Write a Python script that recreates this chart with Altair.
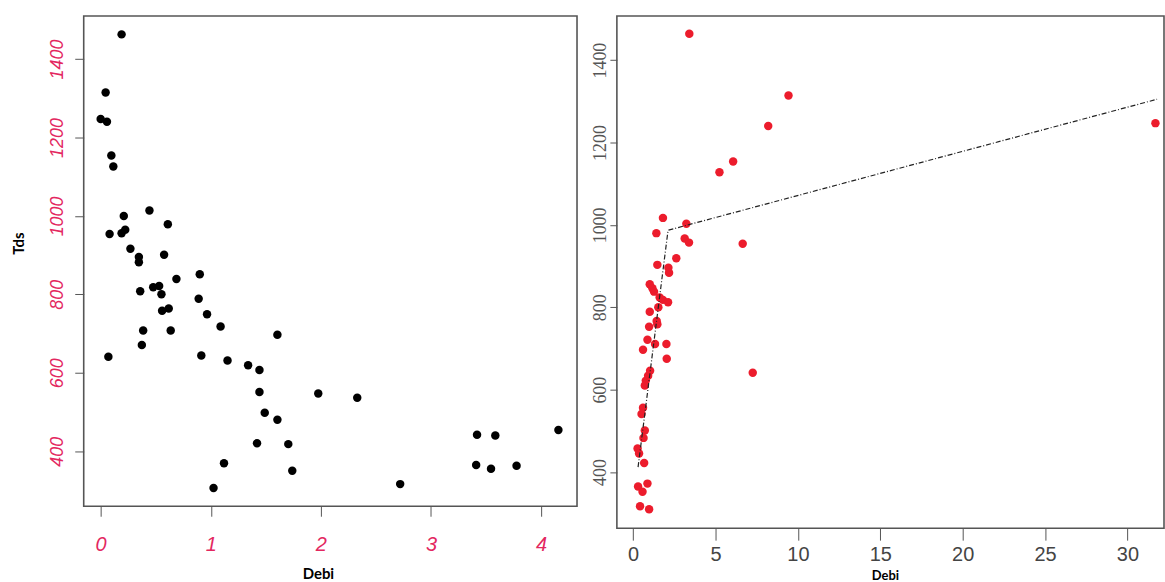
import altair as alt
import pandas as pd

# ---- left panel data (Debi vs Tds) ----
left_debi = [0.19, 0.045, 0.0, 0.057, 0.097, 0.115, 0.21, 0.443, 0.081, 0.19,
             0.223, 0.61, 0.27, 0.347, 0.347, 0.576, 0.688, 0.9, 0.359, 0.477,
             0.531, 0.552, 0.89, 0.558, 0.618, 0.966, 1.089, 0.386, 0.636, 0.374,
             1.605, 0.07, 0.914, 1.152, 1.339, 1.442, 1.442, 1.49, 1.605, 1.42,
             1.704, 1.74, 1.12, 1.025, 1.976, 2.33, 2.72, 3.418, 3.584, 3.41,
             3.545, 3.777, 4.157]
left_tds = [1463, 1315, 1247, 1240, 1154, 1126, 1000, 1014, 954, 956,
            965, 979, 916, 895, 882, 901, 839, 851, 808, 818,
            821, 800, 789, 758, 764, 749, 718, 708, 708, 671,
            697, 641, 644, 631, 619, 607, 551, 498, 480, 420,
            418, 350, 369, 306, 547, 536, 316, 442, 440, 365,
            355, 363, 454]

# ---- right panel data ----
right_debi = [3.41, 9.43, 8.2, 31.7, 6.07, 5.24, 1.81, 1.41, 3.23, 3.13,
              3.39, 6.65, 2.62, 1.47, 2.14, 2.18, 1.01, 1.17, 1.27, 1.61,
              1.81, 2.12, 1.53, 1.01, 1.43, 1.47, 0.97, 0.87, 1.33, 2.02,
              0.6, 2.04, 1.03, 0.91, 0.77, 0.71, 7.26, 0.6, 0.51, 0.71,
              0.63, 0.27, 0.36, 0.67, 0.30, 0.87, 0.57, 0.42, 0.97]
right_tds = [1464, 1314, 1240, 1247, 1154, 1128, 1017, 980, 1003, 967,
             957, 954, 919, 903, 896, 884, 856, 846, 838, 824,
             818, 812, 800, 789, 767, 759, 753, 721, 711, 711,
             697, 675, 646, 634, 622, 610, 641, 556, 541, 501,
             483, 457, 445, 422, 365, 372, 352, 317, 310]

# segmented fit line
fit_debi = [0.3, 2.12, 31.8]
fit_tds = [412, 987, 1305]

LABEL_RED = "#e3275f"

left_df = pd.DataFrame({"Debi": left_debi, "Tds": left_tds})
right_df = pd.DataFrame({"Debi": right_debi, "Tds": right_tds})
fit_df = pd.DataFrame({"Debi": fit_debi, "Tds": fit_tds})

left = alt.Chart(left_df).mark_circle(size=72, color="black", opacity=1).encode(
    x=alt.X("Debi:Q",
            scale=alt.Scale(domain=[-0.154, 4.326], nice=False, zero=False),
            axis=alt.Axis(values=[0, 1, 2, 3, 4], format="d", title="Debi",
                          grid=False, domain=False, tickSize=10, tickColor="#555",
                          labelColor=LABEL_RED, labelFontStyle="italic",
                          labelFont="Liberation Sans", labelFontSize=20,
                          labelBaseline="top", labelPadding=18,
                          labelFlush=False, labelOverlap=False,
                          titleFont="Lato", titleFontWeight="bold", titleFontSize=15,
                          titleColor="black", titleX=235, titleY=67,
                          titleBaseline="middle")),
    y=alt.Y("Tds:Q",
            scale=alt.Scale(domain=[259.5, 1510], nice=False, zero=False),
            axis=alt.Axis(values=[400, 600, 800, 1000, 1200, 1400], format="d",
                          title="Tds", grid=False, domain=False, tickSize=9,
                          tickColor="#555", labelColor=LABEL_RED,
                          labelFontStyle="italic", labelFont="Liberation Sans",
                          labelFontSize=18, labelAngle=-90, labelAlign="center",
                          labelBaseline="alphabetic", labelPadding=12,
                          labelFlush=False, labelOverlap=False,
                          titleFont="Lato", titleFontWeight="bold", titleFontSize=15,
                          titleColor="black", titleX=-65, titleY=228,
                          titleBaseline="middle")),
).properties(width=495, height=492)

right_pts = alt.Chart(right_df).mark_circle(size=72, color="#ec1c2c", opacity=1).encode(
    x=alt.X("Debi:Q",
            scale=alt.Scale(domain=[-0.986, 32.22], nice=False, zero=False),
            axis=alt.Axis(values=[0, 5, 10, 15, 20, 25, 30], format="d", title="Debi",
                          grid=False, domain=False, tickSize=12, tickColor="#555",
                          labelColor="#444", labelFont="Liberation Sans",
                          labelFontSize=20, labelBaseline="top", labelPadding=4,
                          labelFlush=False, labelOverlap=False,
                          titleFont="Lato", titleFontWeight="bold", titleFontSize=13,
                          titleColor="black", titleX=269, titleY=47,
                          titleBaseline="middle")),
    y=alt.Y("Tds:Q",
            scale=alt.Scale(domain=[263.8, 1507.2], nice=False, zero=False),
            axis=alt.Axis(values=[400, 600, 800, 1000, 1200, 1400], format="d",
                          title=None, grid=False, domain=False, tickSize=7,
                          tickColor="#555", labelColor="#555",
                          labelFont="Liberation Sans Narrow", labelFontSize=18,
                          labelAngle=-90, labelAlign="center",
                          labelBaseline="alphabetic", labelPadding=4,
                          labelFlush=False, labelOverlap=False)),
)

right_line = alt.Chart(fit_df).mark_line(color="#222", strokeWidth=1.2,
                                         strokeDash=[5, 2, 1, 2]).encode(
    x="Debi:Q", y="Tds:Q")

right = alt.layer(right_pts, right_line).properties(width=549, height=514)

chart = alt.hconcat(left, right, spacing=13).properties(
    padding={"left": 11, "top": 14, "right": 0, "bottom": 0},
    background="white",
).configure_view(stroke="#555", strokeWidth=1.6)

chart.save("out.html", embed_options={"renderer": "svg", "actions": False})
